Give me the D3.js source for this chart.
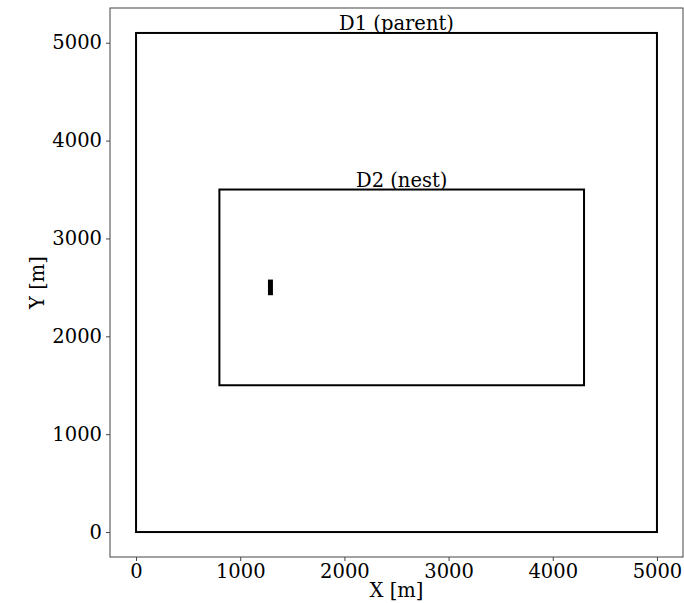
<!DOCTYPE html>
<html><head><meta charset="utf-8">
<script src="https://cdn.jsdelivr.net/npm/d3@7"></script>
<style>body{margin:0;background:#fff}svg{display:block}text{font-family:"DejaVu Serif",serif;fill:#000}</style>
</head><body><svg id="c" width="684" height="603"></svg>
<script>
const domainNames = ["D1 (parent)", "D2 (nest)"];
const domainX0 = [0, 800];
const domainX1 = [5000, 4300];
const domainY0 = [0, 1500];
const domainY1 = [5100, 3500];
const featureX = [1290];
const featureY0 = [2420];
const featureY1 = [2580];
const xTicks = [0, 1000, 2000, 3000, 4000, 5000];
const yTicks = [0, 1000, 2000, 3000, 4000, 5000];
const xLabel = "X [m]", yLabel = "Y [m]";

const FS = 19.5;
const svg = d3.select("#c");
const L = 110, R = 683, T = 8, B = 557;
const x = d3.scaleLinear().domain([-250, 5250]).range([L, R]);
const y = d3.scaleLinear().domain([-255, 5355]).range([B, T]);

const g = svg.append("g");
domainNames.forEach((n, i) => {
  g.append("rect")
    .attr("x", x(domainX0[i])).attr("y", y(domainY1[i]))
    .attr("width", x(domainX1[i]) - x(domainX0[i]))
    .attr("height", y(domainY0[i]) - y(domainY1[i]))
    .attr("fill", "none").attr("stroke", "#000").attr("stroke-width", 2);
  g.append("text")
    .attr("x", (x(domainX0[i]) + x(domainX1[i])) / 2)
    .attr("y", y(domainY1[i]) - 3)
    .attr("text-anchor", "middle").attr("font-size", FS).attr("fill", "#1a1a1a")
    .text(n);
});
featureX.forEach((fx, i) => {
  g.append("line")
    .attr("x1", x(fx)).attr("x2", x(fx))
    .attr("y1", y(featureY0[i])).attr("y2", y(featureY1[i]))
    .attr("stroke", "#000").attr("stroke-width", 5);
});

svg.append("rect").attr("x", L).attr("y", T).attr("width", R - L).attr("height", B - T)
  .attr("fill", "none").attr("stroke", "#444").attr("stroke-width", 1);

const xa = svg.append("g").attr("transform", `translate(0,${B})`)
  .call(d3.axisBottom(x).tickValues(xTicks).tickFormat(d3.format("d")).tickSize(4).tickPadding(3));
const ya = svg.append("g").attr("transform", `translate(${L},0)`)
  .call(d3.axisLeft(y).tickValues(yTicks).tickFormat(d3.format("d")).tickSize(4).tickPadding(4));
[xa, ya].forEach(a => {
  a.select(".domain").remove();
  a.selectAll("line").attr("stroke", "#444");
  a.selectAll("text").attr("font-size", FS).attr("font-family", "DejaVu Serif, serif").attr("fill", "#1a1a1a");
});

svg.append("text").attr("x", (L + R) / 2).attr("y", 597).attr("text-anchor", "middle")
  .attr("font-size", FS).attr("fill", "#1a1a1a").text(xLabel);
svg.append("text").attr("transform", `translate(44,${(T + B) / 2}) rotate(-90)`)
  .attr("text-anchor", "middle").attr("font-size", FS).attr("fill", "#1a1a1a").text(yLabel);
</script></body></html>
